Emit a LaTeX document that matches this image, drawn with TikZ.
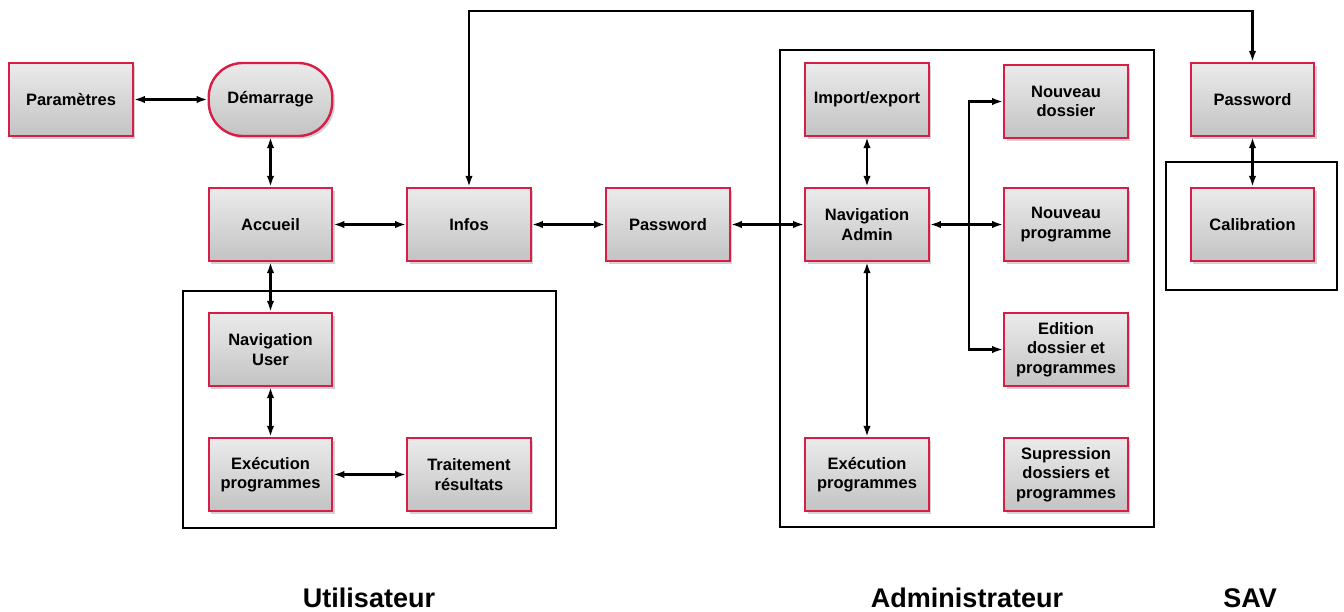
\documentclass[tikz,border=0pt]{standalone}
\usepackage{fontspec}
\setmainfont{Liberation Sans}
\usetikzlibrary{arrows.meta,shadows,calc}
\definecolor{boxred}{HTML}{D81E46}
\definecolor{topgray}{HTML}{EBEBEB}
\definecolor{botgray}{HTML}{C3C3C3}
\tikzset{
  block/.style={draw=boxred, line width=2.4pt, top color=topgray, bottom color=botgray,
    minimum width=123.5pt, minimum height=73pt, inner sep=0pt, align=center,
    font=\fontsize{16.5}{19.5}\selectfont\bfseries,
    drop shadow={shadow xshift=2.5pt, shadow yshift=-2.5pt, fill=black!35, opacity=.5}},
  rblock/.style={block, rounded corners=34pt},
  conn/.style={line width=2.2pt, {Latex[length=11pt,width=7.5pt]}-{Latex[length=11pt,width=7.5pt]}},
  oneway/.style={line width=2.2pt, -{Latex[length=11pt,width=7.5pt]}},
  frame/.style={draw=black, line width=2pt},
  grouplabel/.style={font=\fontsize{27}{30}\selectfont\bfseries, anchor=base, inner sep=0pt},
}
\begin{document}
\begin{tikzpicture}[x=1pt,y=-1pt]
\useasboundingbox (0,0) rectangle (1344,611);
% frames
\draw[frame] (183,291) rectangle (556,528);
\draw[frame] (780,50) rectangle (1154,527);
\draw[frame] (1166,162) rectangle (1337,290);
% nodes
\node[block] (param) at (71,99.5) {Paramètres};
\node[rblock] (dem) at (270.5,99.5) {Démarrage};
\node[block] (acc) at (270.5,224.5) {Accueil};
\node[block] (infos) at (469,224.5) {Infos};
\node[block] (pw) at (668,224.5) {Password};
\node[block] (navA) at (867,224.5) {Navigation\\Admin};
\node[block] (imp) at (867,99.5) {Import/export};
\node[block] (ndos) at (1066,101.5) {Nouveau\\dossier};
\node[block] (nprog) at (1066,224.5) {Nouveau\\programme};
\node[block] (edit) at (1066,349.5) {Edition\\dossier et\\programmes};
\node[block] (execA) at (867,474.5) {Exécution\\programmes};
\node[block] (supp) at (1066,474.5) {Supression\\dossiers et\\programmes};
\node[block] (pwS) at (1252.5,99.5) {Password};
\node[block] (cal) at (1252.5,224.5) {Calibration};
\node[block] (navU) at (270.5,349.5) {Navigation\\User};
\node[block] (execU) at (270.5,474.5) {Exécution\\programmes};
\node[block] (trait) at (469,474.5) {Traitement\\résultats};
% connectors
\draw[conn] (param) -- (dem);
\draw[conn] (dem) -- (acc);
\draw[conn] (acc) -- (infos);
\draw[conn] (infos) -- (pw);
\draw[conn] (pw) -- (navA);
\draw[conn] (acc) -- (navU);
\draw[conn] (navU) -- (execU);
\draw[conn] (execU) -- (trait);
\draw[conn] (imp) -- (navA);
\draw[conn] (navA) -- (execA);
\draw[conn] (navA) -- (nprog);
\coordinate (br) at (969,224.5);
\draw[oneway] (br) |- (ndos.west);
\draw[oneway] (br) |- (edit.west);
\coordinate (topc) at (860,11);
\draw[conn] (infos.north) |- (topc) -| (pwS.north);
\draw[conn] (pwS) -- (cal);
% labels
\node[grouplabel] (lu) at (369,607) {Utilisateur};
\node[grouplabel] (la) at (967,607) {Administrateur};
\node[grouplabel] (ls) at (1250,607) {SAV};
\end{tikzpicture}
\end{document}
